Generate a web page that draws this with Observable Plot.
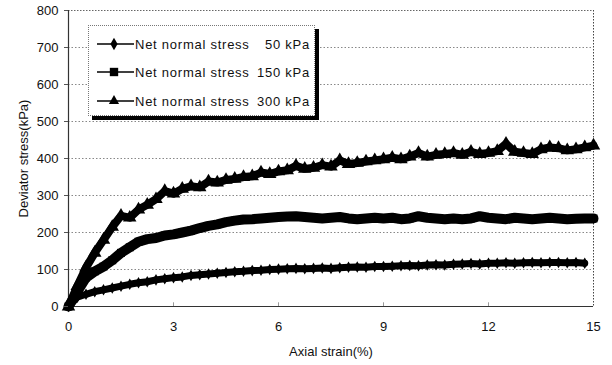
<!DOCTYPE html>
<html>
<head>
<meta charset="utf-8">
<script src="https://cdn.jsdelivr.net/npm/d3@7"></script>
<script src="https://cdn.jsdelivr.net/npm/@observablehq/plot@0.6"></script>
<style>
  body { margin: 0; background: #fff; }
  #wrap { position: relative; width: 612px; height: 365px; font-family: "Liberation Sans", Arial, sans-serif; }
  #legend { position: absolute; left: 88px; top: 25px; width: 225px; height: 89px; border: 1px dotted #777; box-shadow: 4px 4px 0 #000; background: #fff; font-size: 13px; letter-spacing: 0.75px; color: #111; }
  .row { position: absolute; left: 8px; height: 14px; display: flex; align-items: center; white-space: pre; }
  .row svg { margin-right: 1px; }
  .num { display: inline-block; width: 27px; text-align: right; }
</style>
</head>
<body>
<div id="wrap"></div>
<script>
// ----- data -----
const strain = [0,0.25,0.5,0.75,1,1.25,1.5,1.75,2,2.25,2.5,2.75,3,3.25,3.5,3.75,4,4.25,4.5,4.75,5,5.25,5.5,5.75,6,6.25,6.5,6.75,7,7.25,7.5,7.75,8,8.25,8.5,8.75,9,9.25,9.5,9.75,10,10.25,10.5,10.75,11,11.25,11.5,11.75,12,12.25,12.5,12.75,13,13.25,13.5,13.75,14,14.25,14.5,14.75,15];
const stress50 = [0,25,33,40,45,50,55,60,64,67,72,75,78,80,84,86,88,90,92,94,95,97,98,100,101,102,103,102,103,104,103,105,106,107,106,108,108,109,110,111,110,112,113,112,114,115,116,115,117,117,118,117,118,119,118,119,119,118,119,117];
const stress150 = [0,40,78,95,108,125,145,160,175,182,185,192,195,200,205,212,218,222,228,232,235,236,238,240,242,243,244,242,240,238,240,242,238,236,238,240,238,240,236,238,244,240,238,236,238,236,238,244,240,238,236,240,238,236,238,240,238,236,237,238,238];
const stress300 = [0,55,105,145,180,215,245,240,262,275,290,312,305,318,325,322,338,335,342,345,350,352,362,358,365,368,380,372,375,382,378,395,385,388,392,395,398,402,398,405,415,405,410,412,415,410,418,412,415,420,440,418,415,412,425,430,428,422,425,430,435];
const seriesNames = ["Net normal stress  50 kPa", "Net normal stress 150 kPa", "Net normal stress 300 kPa"];
const seriesSymbols = ["diamond", "square", "triangle"];
const xTicks = [0, 3, 6, 9, 12, 15];
const yTicks = [0, 100, 200, 300, 400, 500, 600, 700, 800];

const rows = [];
[stress50, stress150, stress300].forEach((arr, i) => {
  arr.forEach((v, j) => rows.push({s: strain[j], v, k: i}));
});
const sym = k => seriesSymbols[k];

const chart = Plot.plot({
  width: 612, height: 365,
  marginLeft: 68, marginRight: 19, marginTop: 10, marginBottom: 59,
  style: { fontFamily: "Liberation Sans, Arial, sans-serif", fontSize: "13px", color: "#111", background: "#fff" },
  x: { domain: [0, 15] },
  y: { domain: [0, 800] },
  marks: [
    Plot.ruleY(yTicks.filter(d => d > 0 && d < 800), { stroke: "#888", strokeDasharray: "1.5,2", strokeWidth: 1 }),
    Plot.ruleY([800], { stroke: "#666", strokeDasharray: "1.5,1.5" }),
    Plot.ruleX([15], { stroke: "#444", strokeDasharray: "1.5,1.5" }),
    Plot.ruleX([0], { stroke: "#333", strokeWidth: 1.2 }),
    Plot.ruleY([0], { stroke: "#333", strokeWidth: 1.2 }),
    Plot.ruleX(xTicks.filter(d => d > 0 && d < 15), { y1: 0, y2: 10, stroke: "#999" }),
    Plot.line(rows.filter(d => d.k === 0), { x: "s", y: "v", stroke: "#000", strokeWidth: 7 }),
    Plot.dot(rows.filter(d => d.k === 0), { x: "s", y: "v", symbol: d => sym(d.k), r: 3.5, fill: "#000" }),
    Plot.line(rows.filter(d => d.k === 1), { x: "s", y: "v", stroke: "#000", strokeWidth: 10 }),
    Plot.dot(rows.filter(d => d.k === 1), { x: "s", y: "v", symbol: d => sym(d.k), r: 4.5, fill: "#000" }),
    Plot.line(rows.filter(d => d.k === 2), { x: "s", y: "v", stroke: "#000", strokeWidth: 8 }),
    Plot.dot(rows.filter(d => d.k === 2), { x: "s", y: "v", symbol: d => sym(d.k), r: 5, fill: "#000" }),
    Plot.axisX({ ticks: xTicks, tickSize: 0, tickPadding: 15, label: "Axial strain(%)", labelArrow: "none", labelAnchor: "center", labelOffset: 49 }),
    Plot.axisY({ ticks: yTicks, tickSize: 4, tickPadding: 6, label: "Deviator stress(kPa)", labelArrow: "none", labelAnchor: "center", labelOffset: 50, stroke: "#555" })
  ]
});
document.getElementById("wrap").appendChild(chart);

// legend overlay
const legend = document.createElement("div");
legend.id = "legend";
const tops = [11, 39, 68];
seriesNames.forEach((name, i) => {
  const row = document.createElement("div");
  row.className = "row";
  row.style.top = tops[i] + "px";
  const svg = d3.create("svg").attr("width", 37).attr("height", 14);
  svg.append("line").attr("x1", 0).attr("x2", 37).attr("y1", 7).attr("y2", 7).attr("stroke", "#000").attr("stroke-width", 1.5);
  const symType = { diamond: d3.symbolDiamond, square: d3.symbolSquare, triangle: d3.symbolTriangle }[seriesSymbols[i]];
  svg.append("path").attr("d", d3.symbol(symType, i === 1 ? 70 : 45)()).attr("transform", "translate(17,7)").attr("fill", "#000");
  row.appendChild(svg.node());
  const m = name.match(/^(.*stress)\s+(\d+)\s(kPa)$/);
  const t = document.createElement("span");
  t.textContent = m[1] + " ";
  const n = document.createElement("span");
  n.className = "num";
  n.textContent = m[2];
  const u = document.createElement("span");
  u.textContent = " " + m[3];
  row.appendChild(t); row.appendChild(n); row.appendChild(u);
  legend.appendChild(row);
});
document.getElementById("wrap").appendChild(legend);
</script>
</body>
</html>
